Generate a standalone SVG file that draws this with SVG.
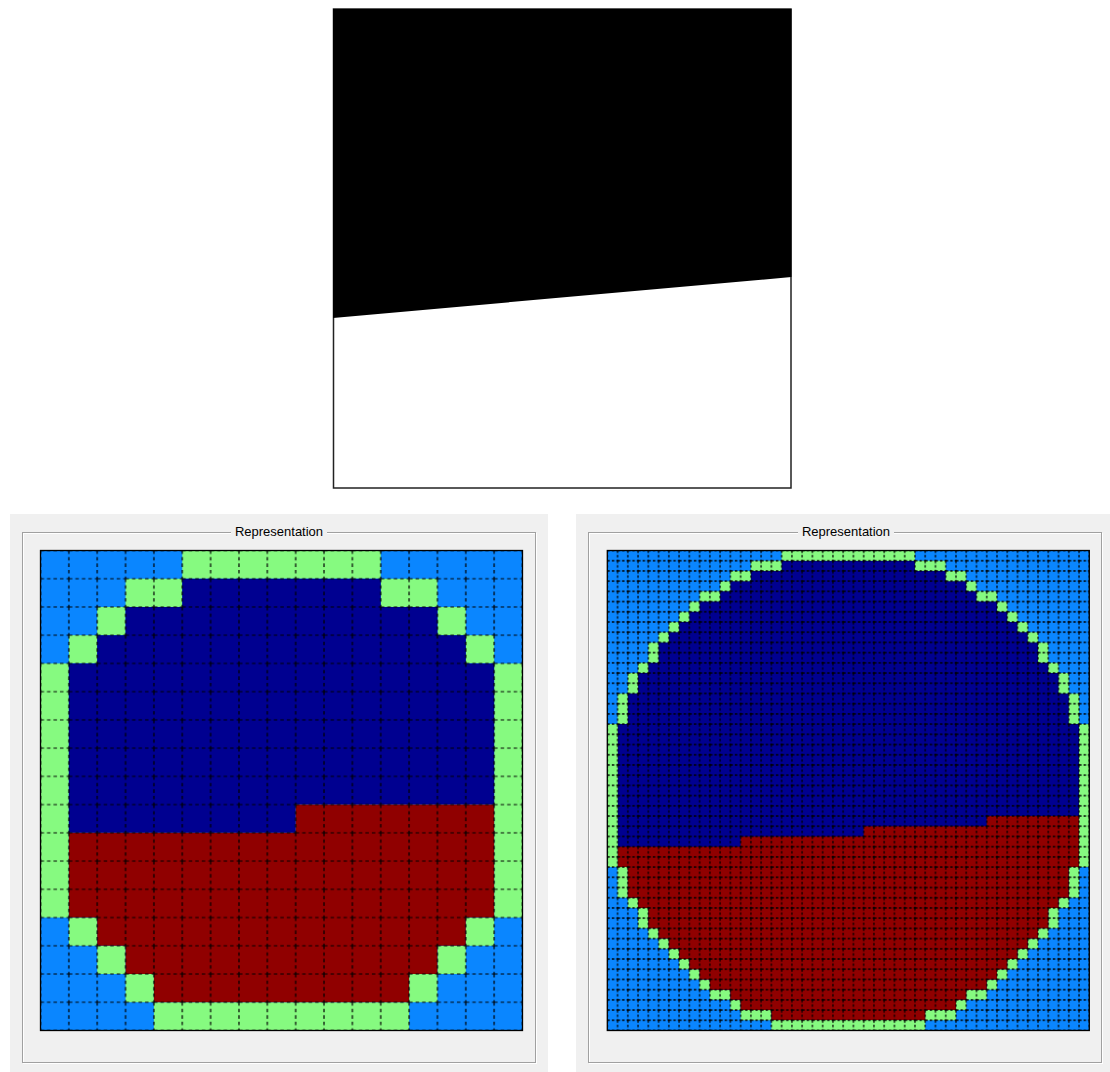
<svg xmlns="http://www.w3.org/2000/svg" width="1110" height="1072" viewBox="0 0 1110 1072">
<style>
.panel{fill:#f0f0f0}
.frameD{fill:none;stroke:#a0a0a0;stroke-width:1}
.frameL{fill:none;stroke:#ffffff;stroke-width:1}
.title{font-family:"Liberation Sans",Arial,sans-serif;font-size:13px;fill:#000;text-anchor:middle}
.lb{fill:#0a86ff}
.gr{fill:#86fa80}
.nv{fill:#000090}
.rd{fill:#900000}
.border{fill:none;stroke:#000;stroke-width:1.3}
</style>
<defs>
<pattern id="gridL" patternUnits="userSpaceOnUse" x="40.5" y="550.5" width="28.353" height="28.235">
<path d="M0,0 H28.353 M0,28.235 H28.353 M0,0 V28.235 M28.353,0 V28.235" fill="none" stroke="#000" stroke-width="1.2" stroke-dasharray="3.5 3"/>
</pattern>
<pattern id="gridR" patternUnits="userSpaceOnUse" x="607.3" y="550.5" width="10.2553" height="10.2128">
<path d="M0,0 H10.2553 M0,10.2128 H10.2553 M0,0 V10.2128 M10.2553,0 V10.2128" fill="none" stroke="#000" stroke-width="1.2" stroke-dasharray="2.5 2"/>
</pattern>
<clipPath id="innerR" clipPathUnits="userSpaceOnUse"><path d="M17,1 H30 V2 H33 V3 H35 V4 H36 V5 H38 V6 H39 V7 H40 V8 H41 V9 H42 V11 H43 V12 H44 V14 H45 V17 H46 V31 H45 V34 H44 V35 H43 V37 H42 V38 H41 V39 H40 V40 H39 V41 H38 V42 H37 V43 H35 V44 H34 V45 H31 V46 H16 V45 H13 V44 H12 V43 H10 V42 H9 V41 H8 V40 H7 V39 H6 V38 H5 V37 H4 V35 H3 V34 H2 V31 H1 V17 H2 V14 H3 V12 H4 V11 H5 V9 H6 V8 H7 V7 H8 V6 H9 V5 H11 V4 H12 V3 H14 V2 H17 Z"/></clipPath>
</defs>
<rect width="1110" height="1072" fill="#fff"/>

<g id="image">
<rect x="333.5" y="9" width="457.5" height="479" fill="#fff" stroke="#222" stroke-width="1.5"/>
<polygon points="333,9 791.5,9 791.5,277 333,318" fill="#000"/>
</g>

<g id="panel-left">
<rect class="panel" x="10" y="514" width="538" height="558"/>
<rect class="frameL" x="23.5" y="533.5" width="513" height="530"/>
<rect class="frameD" x="22.5" y="532.5" width="513" height="530"/>
<rect class="panel" x="231" y="525" width="96" height="14"/>
<text class="title" x="279" y="536">Representation</text>
<g id="grid-left">
<rect class="lb" x="40.5" y="550.5" width="482" height="480"/>
<g transform="translate(40.5,550.5) scale(28.353,28.235)">
<rect class="gr" x="5" y="0" width="7" height="1"/>
<rect class="gr" x="3" y="1" width="2" height="1"/>
<rect class="gr" x="12" y="1" width="2" height="1"/>
<rect class="gr" x="2" y="2" width="1" height="1"/>
<rect class="gr" x="14" y="2" width="1" height="1"/>
<rect class="gr" x="1" y="3" width="1" height="1"/>
<rect class="gr" x="15" y="3" width="1" height="1"/>
<rect class="gr" x="0" y="4" width="1" height="9"/>
<rect class="gr" x="16" y="4" width="1" height="9"/>
<rect class="gr" x="1" y="13" width="1" height="1"/>
<rect class="gr" x="15" y="13" width="1" height="1"/>
<rect class="gr" x="2" y="14" width="1" height="1"/>
<rect class="gr" x="14" y="14" width="1" height="1"/>
<rect class="gr" x="3" y="15" width="1" height="1"/>
<rect class="gr" x="13" y="15" width="1" height="1"/>
<rect class="gr" x="4" y="16" width="9" height="1"/>
<path class="nv" d="M5,1 H12 V2 H14 V3 H15 V4 H16 V9 H9 V10 H1 V4 H2 V3 H3 V2 H5 Z"/>
<path class="rd" d="M9,9 H16 V13 H15 V14 H14 V15 H13 V16 H4 V15 H3 V14 H2 V13 H1 V10 H9 Z"/>
</g>
<rect x="40.5" y="550.5" width="482" height="480" fill="url(#gridL)"/>
<rect class="border" x="40.5" y="550.5" width="482" height="480"/>
</g>
</g>

<g id="panel-right">
<rect class="panel" x="576" y="514" width="534" height="558"/>
<rect class="frameL" x="589.5" y="533.5" width="513" height="530"/>
<rect class="frameD" x="588.5" y="532.5" width="513" height="530"/>
<rect class="panel" x="798" y="525" width="96" height="14"/>
<text class="title" x="846" y="536">Representation</text>
<g id="grid-right">
<rect class="lb" x="607.3" y="550.5" width="482" height="480"/>
<g transform="translate(607.3,550.5) scale(10.2553,10.2128)">
<path class="gr" d="M17,0 H30 V1 H33 V2 H35 V3 H36 V4 H38 V5 H39 V6 H40 V7 H41 V8 H42 V9 H43 V11 H44 V12 H45 V14 H46 V17 H47 V31 H46 V34 H45 V35 H44 V37 H43 V38 H42 V39 H41 V40 H40 V41 H39 V42 H38 V43 H37 V44 H35 V45 H34 V46 H31 V47 H16 V46 H13 V45 H12 V44 H10 V43 H9 V42 H8 V41 H7 V40 H6 V39 H5 V38 H4 V37 H3 V35 H2 V34 H1 V31 H0 V17 H1 V14 H2 V12 H3 V11 H4 V9 H5 V8 H6 V7 H7 V6 H8 V5 H9 V4 H11 V3 H12 V2 H14 V1 H17 Z"/>
<g clip-path="url(#innerR)">
<rect class="nv" x="0" y="0" width="47" height="47"/>
<path class="rd" d="M0,29 H13 V28 H25 V27 H37 V26 H47 V47 H0 Z"/>
</g>
</g>
<rect x="607.3" y="550.5" width="482" height="480" fill="url(#gridR)"/>
<rect class="border" x="607.3" y="550.5" width="482" height="480"/>
</g>
</g>
</svg>
